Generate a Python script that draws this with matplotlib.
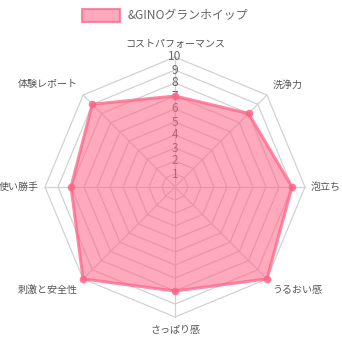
import numpy as np
import matplotlib
matplotlib.use("Agg")
import matplotlib.pyplot as plt
from matplotlib.patches import Rectangle

plt.rcParams['font.family'] = ['Noto Sans CJK JP', 'DejaVu Sans']

labels = ['コストパフォーマンス', '洗浄力', '泡立ち', 'うるおい感',
          'さっぱり感', '刺激と安全性', '使い勝手', '体験レポート']
values = [7, 8, 9, 10, 8, 10, 8, 9]
ticks = list(range(1, 11))
series_name = '&GINOグランホイップ'

vmax = 10
cx, cy = 175, 187      # centre in pixel coords
R = 130                # radius of the outer ring

fig = plt.figure(figsize=(3.42, 3.42), dpi=100)
ax = fig.add_axes([0, 0, 1, 1])
ax.set_xlim(0, 342)
ax.set_ylim(342, 0)
ax.axis('off')

n = len(labels)
ang = np.arange(n) * 2 * np.pi / n
dx = np.sin(ang)
dy = -np.cos(ang)

grid_c = '#d2d2d2'
# rings
for t in ticks:
    r = R * t / vmax
    xs = np.r_[cx + r * dx, cx + r * dx[0]]
    ys = np.r_[cy + r * dy, cy + r * dy[0]]
    ax.plot(xs, ys, color=grid_c, lw=0.9, zorder=1)
# spokes
for i in range(n):
    ax.plot([cx, cx + R * dx[i]], [cy, cy + R * dy[i]], color=grid_c, lw=0.9, zorder=1)

# tick labels (under the fill, like chart.js)
for t in ticks:
    ax.text(cx, cy - R * t / vmax, str(t), ha='center', va='center',
            fontsize=8.6, color='#666666', zorder=2)

# data
v = np.array(values, dtype=float)
px = cx + R * v / vmax * dx
py = cy + R * v / vmax * dy
ax.fill(np.r_[px, px[0]], np.r_[py, py[0]], color=(1, 0.39, 0.52, 0.55), lw=0, zorder=3)
ax.plot(np.r_[px, px[0]], np.r_[py, py[0]], color=(1, 0.39, 0.52, 0.75), lw=2.2, zorder=4)
ax.scatter(px, py, s=30, color=(1, 0.39, 0.52, 0.85), zorder=5, lw=0)

# point labels
for i, lab in enumerate(labels):
    s = np.round(dx[i], 3)
    c = np.round(dy[i], 3)
    r = R + (6 if c == 0 else 8)
    x = cx + r * dx[i]
    y = cy + r * dy[i]
    ha = 'center' if s == 0 else ('left' if s > 0 else 'right')
    va = 'center' if c == 0 else ('bottom' if c < 0 else 'top')
    ax.text(x, y, lab, ha=ha, va=va, fontsize=7.2, color='#555555', zorder=6)

# legend
ax.add_patch(Rectangle((82, 9), 38, 13, facecolor=(1, 0.39, 0.52, 0.55),
                       edgecolor=(1, 0.39, 0.52, 0.75), lw=1.5, zorder=6))
ax.text(128, 15.5, series_name, ha='left', va='center', fontsize=8.6,
        color='#666666', zorder=6)

fig.savefig('out.png', dpi=100)
